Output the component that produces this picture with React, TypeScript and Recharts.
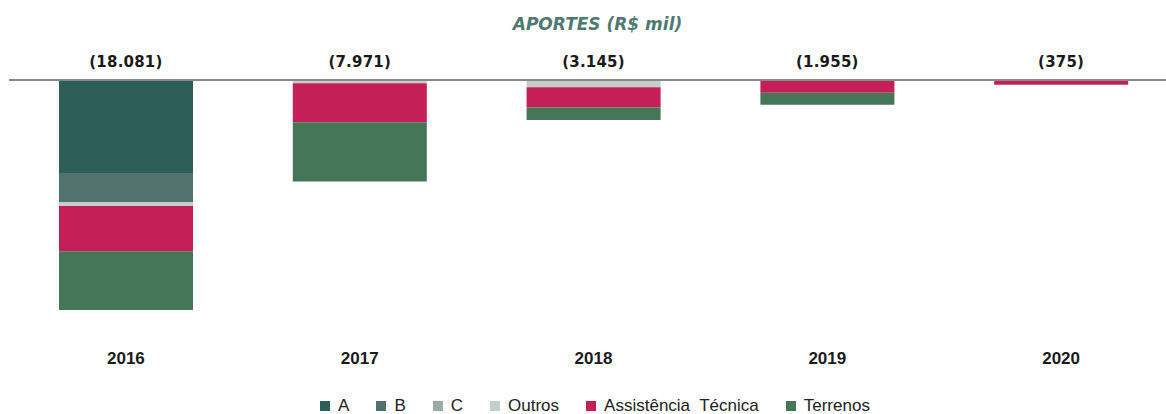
import React from 'react';
import { BarChart, Bar, XAxis, YAxis, ReferenceLine } from 'recharts';

const years = ['2016', '2017', '2018', '2019', '2020'];
const totalLabels = ['(18.081)', '(7.971)', '(3.145)', '(1.955)', '(375)'];
const serieA = [-7310, 0, 0, 0, 0];
const serieB = [-2280, 0, 0, 0, 0];
const serieC = [0, 0, 0, 0, 0];
const outros = [-315, -260, -575, 0, 0];
const assistencia = [-3560, -3066, -1585, -1005, -375];
const terrenos = [-4616, -4645, -985, -950, 0];

const seriesDefs = [
  { key: 'A', name: 'A', color: '#2e5e58' },
  { key: 'B', name: 'B', color: '#50736d' },
  { key: 'C', name: 'C', color: '#9aaba8' },
  { key: 'Outros', name: 'Outros', color: '#c5cecb' },
  { key: 'Assist', name: 'Assistência  Técnica', color: '#c41f56' },
  { key: 'Terrenos', name: 'Terrenos', color: '#457656' },
];

const data = years.map((y, i) => ({
  year: y,
  total: totalLabels[i],
  A: serieA[i],
  B: serieB[i],
  C: serieC[i],
  Outros: outros[i],
  Assist: assistencia[i],
  Terrenos: terrenos[i],
}));

const TopTick = (props: any) => (
  <text
    x={props.x}
    y={66.5}
    textAnchor="middle"
    fontFamily="DejaVu Sans"
    fontWeight="bold"
    fontSize={15}
    letterSpacing={0.2}
    fill="#1a1a1a"
  >
    {props.payload.value}
  </text>
);

const BottomTick = (props: any) => (
  <text
    x={props.x}
    y={364}
    textAnchor="middle"
    fontFamily="Liberation Sans"
    fontWeight="bold"
    fontSize={17}
    fill="#1a1a1a"
  >
    {props.payload.value}
  </text>
);

export default function App() {
  return (
    <div
      style={{
        position: 'absolute',
        left: 0,
        top: 0,
        width: 1166,
        height: 414,
        overflow: 'hidden',
        background: '#fff',
      }}
    >
      <div
        style={{
          position: 'absolute',
          left: 0,
          top: 14,
          width: 1195,
          textAlign: 'center',
          fontFamily: 'DejaVu Sans',
          fontWeight: 'bold',
          fontStyle: 'italic',
          fontSize: 17,
          color: '#4e7a72',
          lineHeight: '20px',
        }}
      >
        APORTES (R$ mil)
      </div>
      <div style={{ position: 'absolute', left: 0, top: 0 }}>
        <BarChart
          width={1180}
          height={414}
          data={data}
          margin={{ top: 50, left: 9, right: 2, bottom: 44 }}
        >
          <XAxis
            xAxisId="top"
            orientation="top"
            dataKey="total"
            axisLine={false}
            tickLine={false}
            height={30}
            interval={0}
            tick={<TopTick />}
          />
          <XAxis
            dataKey="year"
            axisLine={false}
            tickLine={false}
            height={60}
            interval={0}
            tick={<BottomTick />}
          />
          <YAxis hide type="number" domain={[-18081, 0]} allowDataOverflow />
          {seriesDefs.map((s) => (
            <Bar
              key={s.key}
              dataKey={s.key}
              name={s.name}
              stackId="s"
              fill={s.color}
              barSize={134}
              isAnimationActive={false}
            />
          ))}
          <ReferenceLine y={0} stroke="#8a8a8a" strokeWidth={2} />
        </BarChart>
      </div>
      <div
        style={{
          position: 'absolute',
          left: 0,
          top: 396,
          width: 1190,
          display: 'flex',
          justifyContent: 'center',
          alignItems: 'center',
          fontFamily: 'Liberation Sans',
          fontSize: 17,
          color: '#222',
          lineHeight: '20px',
        }}
      >
        {seriesDefs.map((s, i) => (
          <div
            key={s.key}
            style={{
              display: 'flex',
              alignItems: 'center',
              marginRight: i === seriesDefs.length - 1 ? 0 : 27,
              whiteSpace: 'pre',
            }}
          >
            <span
              style={{
                display: 'inline-block',
                width: 10,
                height: 10,
                background: s.color,
                marginRight: 8,
              }}
            />
            <span>{s.name}</span>
          </div>
        ))}
      </div>
    </div>
  );
}
